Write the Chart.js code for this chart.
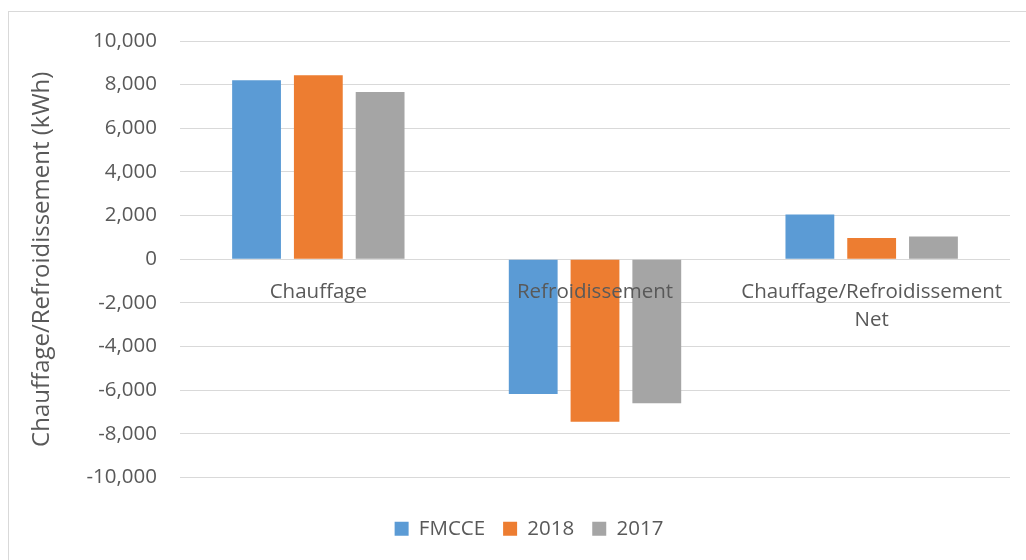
<!DOCTYPE html>
<html>
<head>
<meta charset="utf-8">
<script src="https://cdn.jsdelivr.net/npm/chart.js@4/dist/chart.umd.min.js"></script>
<style>
  html, body { margin: 0; padding: 0; background: #ffffff; overflow: hidden; width: 1026px; height: 560px; }
  #frame { position: absolute; left: 8px; top: 11px; width: 1100px; height: 700px; border: 1px solid #d9d9d9; box-sizing: border-box; }
  #wrap { position: absolute; left: 0; top: 0; width: 1058px; height: 560px; }
</style>
</head>
<body>
<div id="frame"></div>
<div id="wrap"><canvas id="c" width="1058" height="560"></canvas></div>
<script>
const categories = ['Chauffage', 'Refroidissement', ['Chauffage/Refroidissement', 'Net']];
const seriesNames = ['FMCCE', '2018', '2017'];
const fmcce = [8200, -6170, 2050];
const y2018 = [8430, -7450, 975];
const y2017 = [7660, -6600, 1040];
const yTicks = [-10000, -8000, -6000, -4000, -2000, 0, 2000, 4000, 6000, 8000, 10000];
const axisTitle = 'Chauffage/Refroidissement (kWh)';

const FONT = "'Open Sans', sans-serif";
const TXT = '#595959';
const GRID = '#d9d9d9';

new Chart(document.getElementById('c'), {
  type: 'bar',
  data: {
    labels: categories,
    datasets: [
      { label: seriesNames[0], data: fmcce, backgroundColor: '#5B9BD5' },
      { label: seriesNames[1], data: y2018, backgroundColor: '#ED7D31' },
      { label: seriesNames[2], data: y2017, backgroundColor: '#A5A5A5' }
    ]
  },
  options: {
    responsive: false,
    animation: false,
    devicePixelRatio: 1,
    datasets: { bar: { categoryPercentage: 0.67, barPercentage: 0.79 } },
    layout: { padding: { left: 48, right: 48, top: 41, bottom: 11 } },
    plugins: {
      tooltip: { enabled: false },
      legend: {
        position: 'bottom',
        labels: {
          boxWidth: 14, boxHeight: 14, padding: 18,
          color: TXT,
          font: { family: FONT, size: 20.5 }
        }
      }
    },
    scales: {
      x: {
        position: { y: 0 },
        grid: { display: false },
        border: { display: false },
        ticks: {
          z: 1,
          color: TXT, padding: 11, maxRotation: 0, autoSkip: false,
          font: { family: FONT, size: 20.5, lineHeight: 1.37 }
        }
      },
      x2: {
        axis: 'x',
        type: 'category',
        position: 'bottom',
        grid: { display: false },
        border: { display: false },
        ticks: { display: false },
        afterFit: (s) => { s.height = 23; }
      },
      y: {
        min: -10000, max: 10000,
        afterFit: (s) => { s.width = 132; },
        afterBuildTicks: (s) => { s.ticks = yTicks.map(v => ({ value: v })); },
        grid: { color: GRID, lineWidth: 1, drawTicks: false },
        border: { display: false },
        ticks: {
          color: TXT, padding: 23,
          font: { family: FONT, size: 20.5 },
          callback: (v) => Number(v).toLocaleString('en-US')
        },
        title: {
          display: true, text: axisTitle, color: TXT,
          padding: { top: -20.4, bottom: 0 },
          font: { family: FONT, size: 24, lineHeight: 1.2 }
        }
      }
    }
  }
});
</script>
</body>
</html>
